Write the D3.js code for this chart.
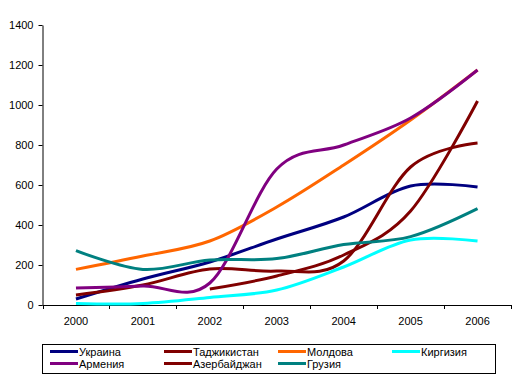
<!DOCTYPE html>
<html>
<head>
<meta charset="utf-8">
<script src="https://cdn.jsdelivr.net/npm/d3@7"></script>
<style>
  body { margin: 0; background: #fff; }
  text { font-family: "Liberation Sans", Arial, sans-serif; font-size: 11px; fill: #000; }
</style>
</head>
<body>
<script>
(function(){

    //years along the x axis
    var years = ["2000", "2001", "2002", "2003", "2004", "2005", "2006"];
    var yTicks = [0, 200, 400, 600, 800, 1000, 1200, 1400];

    //series values
    var ukraine    = [30, 130, 215, 330, 440, 595, 590];
    var tajik      = [50, 100, 180, 170, 220, 690, 810];
    var moldova    = [178, 245, 320, 490, 700, 925, 1175];
    var kyrgyz     = [8, 8, 38, 75, 190, 325, 320];
    var armenia    = [85, 95, 110, 680, 800, 935, 1175];
    var azer       = [null, null, 80, 145, 250, 470, 1020];
    var georgia    = [272, 178, 225, 232, 302, 342, 482];

    var names  = ["Украина", "Таджикистан", "Молдова", "Киргизия", "Армения", "Азербайджан", "Грузия"];
    var colors = ["#000080", "#800000", "#FF6600", "#00FFFF", "#800080", "#800000", "#008080"];
    var values = [ukraine, tajik, moldova, kyrgyz, armenia, azer, georgia];

    var width = 523, height = 385;

    var svg = d3.select("body")
        .append("svg")
        .attr("width", width)
        .attr("height", height);

    //plot frame
    var left = 42.5, right = 511, top = 25, bottom = 305;

    var x = d3.scaleBand()
        .domain(years)
        .range([left, right]);

    var y = d3.scaleLinear()
        .domain([0, 1400])
        .range([bottom, top]);

    //y axis
    var yAxis = svg.append("g")
        .attr("transform", "translate(" + left + ",0)")
        .call(d3.axisLeft(y).tickValues(yTicks).tickFormat(d3.format("d"))
            .tickSize(4).tickSizeOuter(0).tickPadding(5));
    yAxis.select(".domain").attr("stroke", "#000");
    yAxis.selectAll("text").style("font-family", "Liberation Sans, Arial, sans-serif").style("font-size", "11px");

    //x axis: labels at centres, ticks between categories
    var xAxis = svg.append("g")
        .attr("transform", "translate(0," + bottom + ")")
        .call(d3.axisBottom(x).tickSize(0).tickPadding(12));
    xAxis.select(".domain").remove();
    xAxis.selectAll("text").style("font-family", "Liberation Sans, Arial, sans-serif").style("font-size", "11px");

    svg.append("line")
        .attr("x1", left).attr("x2", right)
        .attr("y1", bottom + 0.5).attr("y2", bottom + 0.5)
        .attr("stroke", "#000");

    var bounds = years.map(function(d){ return x(d); }).concat([x.range()[1]]);
    svg.selectAll(".xtick")
        .data(bounds)
        .enter()
        .append("line")
        .attr("class", "xtick")
        .attr("x1", function(d){ return Math.round(d) + 0.5; })
        .attr("x2", function(d){ return Math.round(d) + 0.5; })
        .attr("y1", bottom)
        .attr("y2", bottom + 4)
        .attr("stroke", "#000");

    //smoothed lines like excel
    var line = d3.line()
        .defined(function(d){ return d != null; })
        .x(function(d, i){ return x(years[i]) + x.bandwidth() / 2; })
        .y(function(d){ return y(d); })
        .curve(d3.curveCardinal.tension(0));

    svg.selectAll(".series")
        .data(values)
        .enter()
        .append("path")
        .attr("class", "series")
        .attr("fill", "none")
        .attr("stroke", function(d, i){ return colors[i]; })
        .attr("stroke-width", 3)
        .attr("d", line);

    //legend
    svg.append("rect")
        .attr("x", 42.5).attr("y", 344.5)
        .attr("width", 453).attr("height", 29)
        .attr("fill", "#fff")
        .attr("stroke", "#000");

    var colX = [50, 164, 278, 392];
    var rowY = [351.5, 363.5];

    var items = svg.selectAll(".legend")
        .data(names)
        .enter()
        .append("g")
        .attr("class", "legend")
        .attr("transform", function(d, i){
            return "translate(" + colX[i % 4] + "," + rowY[Math.floor(i / 4)] + ")";
        });

    items.append("line")
        .attr("x1", 0).attr("x2", 28)
        .attr("y1", 0).attr("y2", 0)
        .attr("stroke", function(d, i){ return colors[i]; })
        .attr("stroke-width", 3);

    items.append("text")
        .attr("x", 29)
        .attr("y", 4)
        .text(function(d){ return d; });

})();
</script>
</body>
</html>
